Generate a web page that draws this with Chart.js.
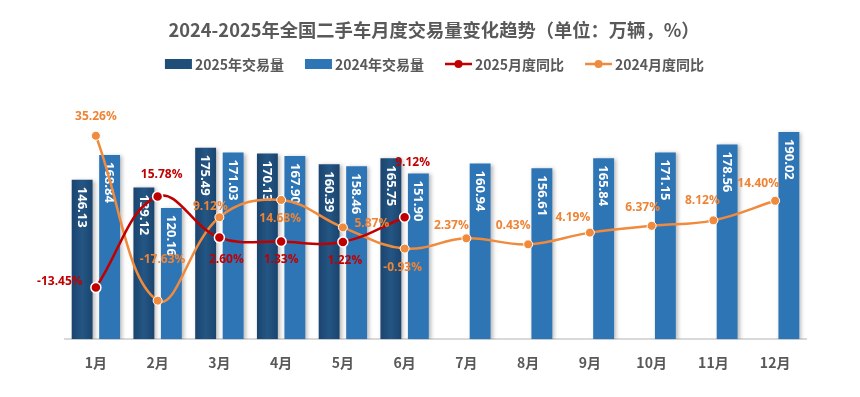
<!DOCTYPE html>
<html><head><meta charset="utf-8">
<script src="https://cdn.jsdelivr.net/npm/chart.js@4"></script>
<style>html,body{margin:0;padding:0;background:#fff}#wrap{width:860px;height:397px}</style>
</head><body><div id="wrap"><canvas id="c" width="860" height="397"></canvas></div>
<script>
const categories = ['1月','2月','3月','4月','5月','6月','7月','8月','9月','10月','11月','12月'];
const volume2025 = [146.13, 139.12, 175.49, 170.13, 160.39, 165.75, null, null, null, null, null, null];
const volume2024 = [168.84, 120.16, 171.03, 167.90, 158.46, 151.90, 160.94, 156.61, 165.84, 171.15, 178.56, 190.02];
const yoy2025 = [-13.45, 15.78, 2.60, 1.33, 1.22, 9.12, null, null, null, null, null, null];
const yoy2024 = [35.26, -17.63, 9.12, 14.68, 5.87, -0.93, 2.37, 0.43, 4.19, 6.37, 8.12, 14.40];
const volumeAxisRange = [0, 200];
const yoyAxisRange = [-30, 40];
const titleText = '2024-2025年全国二手车月度交易量变化趋势（单位：万辆，%）';
const seriesNames = ['2025年交易量', '2024年交易量', '2025月度同比', '2024月度同比'];

// presentation settings
const COLORS = ['#1F4E79', '#2E75B6', '#C00000', '#F08A3C'];
const LABEL_COLORS = ['#C00000', '#EE8436'];
const OFF2025 = [[-36,-6],[4,-22],[7,22],[0,18],[2,19],[8,-55]];
const OFF2024 = [[0,-19],[5,-41],[-9,-11],[-1,19],[29,-4],[-2,19],[-15,-13],[-15,-19],[-17,-15],[-9,-18],[-11,-20],[-17,-17]];
const CJK = '"Noto Sans CJK SC", "Noto Sans", sans-serif';
const NUM = '"Open Sans", "Noto Sans", sans-serif';

function darkBarFill(c) {
  const meta = c.chart.getDatasetMeta(c.datasetIndex);
  const el = meta && meta.data[c.dataIndex];
  if (!el || el.x == null || !el.width) return COLORS[0];
  const g = c.chart.ctx.createLinearGradient(el.x - el.width / 2, 0, el.x + el.width / 2, 0);
  g.addColorStop(0, '#1A446E');
  g.addColorStop(0.5, '#245684');
  g.addColorStop(1, '#1A446E');
  return g;
}

const labelPlugin = {
  id: 'labels',
  beforeDatasetDraw(chart, args) {
    if (args.index < 2) {
      const ctx = chart.ctx;
      ctx.save();
      ctx.shadowColor = 'rgba(0,0,0,0.28)';
      ctx.shadowBlur = 4;
      ctx.shadowOffsetX = 2;
      ctx.shadowOffsetY = 1;
    }
  },
  afterDatasetDraw(chart, args) {
    if (args.index < 2) {
      const ctx = chart.ctx;
      ctx.restore();
      const meta = chart.getDatasetMeta(args.index);
      const data = chart.data.datasets[args.index].data;
      ctx.save();
      ctx.fillStyle = '#FFFFFF';
      ctx.font = 'bold 13px ' + NUM;
      ctx.textAlign = 'left';
      ctx.textBaseline = 'middle';
      meta.data.forEach((el, i) => {
        if (data[i] == null) return;
        ctx.save();
        ctx.translate(el.x, el.y + 7);
        ctx.rotate(Math.PI / 2);
        ctx.fillText(data[i].toFixed(2), 0, 0.5);
        ctx.restore();
      });
      ctx.restore();
    }
  },
  afterDatasetsDraw(chart) {
    const ctx = chart.ctx;
    ctx.save();
    ctx.font = 'bold 12px ' + NUM;
    ctx.textAlign = 'center';
    ctx.textBaseline = 'middle';
    [[3, OFF2024, LABEL_COLORS[1]], [2, OFF2025, LABEL_COLORS[0]]].forEach(([di, offs, col]) => {
      const meta = chart.getDatasetMeta(di);
      const data = chart.data.datasets[di].data;
      ctx.fillStyle = col;
      meta.data.forEach((el, i) => {
        if (data[i] == null) return;
        const o = offs[i] || [0, -16];
        ctx.fillText(data[i].toFixed(2) + '%', el.x + o[0], el.y + o[1]);
      });
    });
    ctx.restore();
  },
  afterDraw(chart) {
    const ctx = chart.ctx;
    ctx.save();
    ctx.fillStyle = '#595959';
    ctx.font = 'bold 18.3px ' + CJK;
    ctx.textAlign = 'center';
    ctx.textBaseline = 'middle';
    ctx.fillText(titleText, 434, 30);
    // legend
    ctx.font = 'bold 14px ' + CJK;
    ctx.textAlign = 'left';
    const boxW = 27, gap = 3, spacing = 21;
    const widths = seriesNames.map(n => boxW + gap + ctx.measureText(n).width);
    const total = widths.reduce((a, b) => a + b, 0) + spacing * 3;
    let x = 434.5 - total / 2;
    const y = 64;
    seriesNames.forEach((n, i) => {
      if (i < 2) {
        ctx.fillStyle = COLORS[i];
        ctx.fillRect(x, y - 5, boxW, 10);
      } else {
        ctx.strokeStyle = COLORS[i];
        ctx.lineWidth = 2.5;
        ctx.beginPath();
        ctx.moveTo(x, y);
        ctx.lineTo(x + boxW, y);
        ctx.stroke();
        ctx.fillStyle = COLORS[i];
        ctx.beginPath();
        ctx.arc(x + boxW / 2, y, 4, 0, Math.PI * 2);
        ctx.fill();
      }
      ctx.fillStyle = '#595959';
      ctx.fillText(n, x + boxW + gap, y + 0.5);
      x += widths[i] + spacing;
    });
    ctx.restore();
  }
};

const chart = new Chart(document.getElementById('c'), {
  type: 'bar',
  data: {
    labels: categories,
    datasets: [
      { type: 'bar', label: seriesNames[0], data: volume2025, backgroundColor: darkBarFill, yAxisID: 'y', order: 2,
        categoryPercentage: 0.89, barPercentage: 0.76 },
      { type: 'bar', label: seriesNames[1], data: volume2024, backgroundColor: COLORS[1], yAxisID: 'y', order: 2,
        categoryPercentage: 0.89, barPercentage: 0.76 },
      { type: 'line', label: seriesNames[2], data: yoy2025, borderColor: COLORS[2], backgroundColor: COLORS[2],
        borderWidth: 2.5, tension: 0.4, pointRadius: 5, pointBorderColor: '#FFFFFF', pointBorderWidth: 1.5,
        pointBackgroundColor: COLORS[2], yAxisID: 'y1', order: 0, spanGaps: false },
      { type: 'line', label: seriesNames[3], data: yoy2024, borderColor: COLORS[3], backgroundColor: COLORS[3],
        borderWidth: 2.5, tension: 0.4, pointRadius: 4.5, pointBorderColor: '#FFFFFF', pointBorderWidth: 1,
        pointBackgroundColor: COLORS[3], yAxisID: 'y1', order: 1 }
    ]
  },
  options: {
    responsive: false,
    animation: false,
    layout: { padding: { top: 121, left: 65, right: 54, bottom: 11 } },
    plugins: { legend: { display: false }, title: { display: false }, tooltip: { enabled: false } },
    scales: {
      x: {
        grid: { display: false, drawTicks: false },
        border: { display: true, color: '#D9D9D9', width: 2 },
        ticks: { color: '#595959', padding: 15, font: { family: CJK, size: 14, weight: 'bold' } }
      },
      y: { display: false, min: volumeAxisRange[0], max: volumeAxisRange[1] },
      y1: { display: false, min: yoyAxisRange[0], max: yoyAxisRange[1] }
    }
  },
  plugins: [labelPlugin]
});
chart.update('none');
</script>
</body></html>
